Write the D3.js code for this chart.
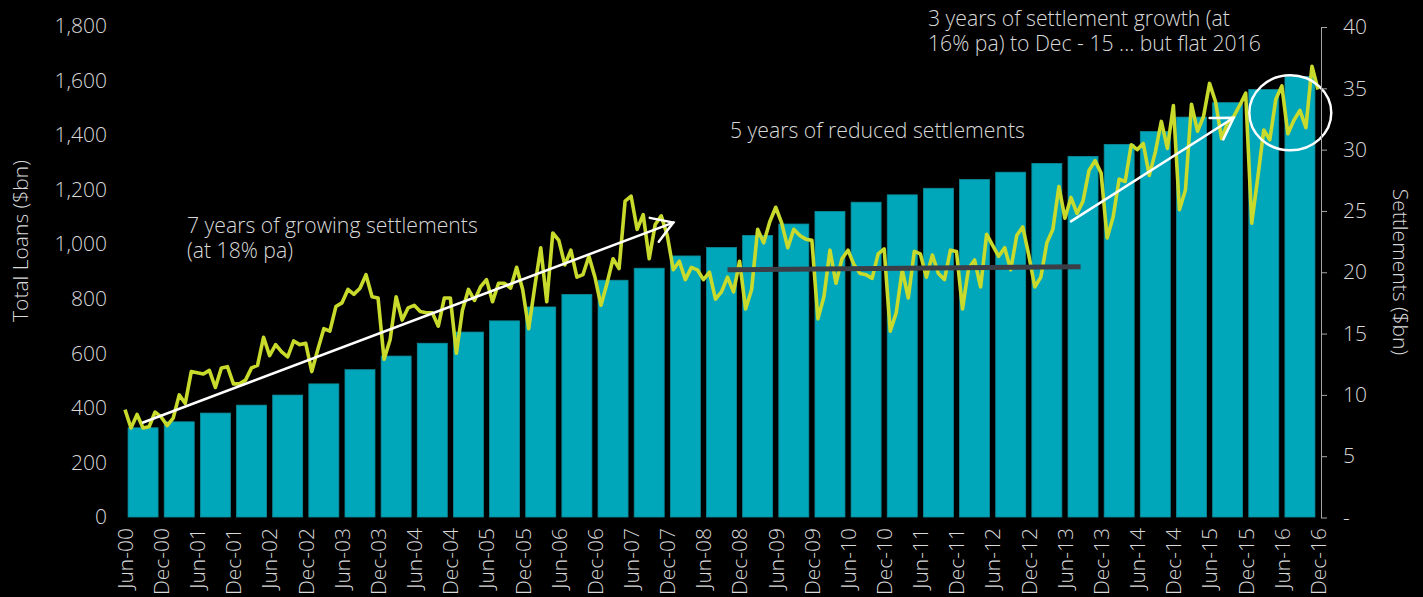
<!DOCTYPE html>
<html>
<head>
<meta charset="utf-8">
<script src="https://cdn.jsdelivr.net/npm/d3@7"></script>
<style>
  body { margin: 0; background: #000; }
  svg { display: block; background: #000; }
  text { font-family: "Open Sans", sans-serif; font-weight: 300; fill: #d9d9d9; }
</style>
</head>
<body>
<div id="chart"></div>
<script>
// half-year labels on the category axis
const periodLabels = [
  "Jun-00", "Dec-00", "Jun-01", "Dec-01", "Jun-02", "Dec-02", "Jun-03", "Dec-03",
  "Jun-04", "Dec-04", "Jun-05", "Dec-05", "Jun-06", "Dec-06", "Jun-07", "Dec-07",
  "Jun-08", "Dec-08", "Jun-09", "Dec-09", "Jun-10", "Dec-10", "Jun-11", "Dec-11",
  "Jun-12", "Dec-12", "Jun-13", "Dec-13", "Jun-14", "Dec-14", "Jun-15", "Dec-15",
  "Jun-16", "Dec-16"
];

// total loans ($bn), one bar per half year
const totalLoans = [
  327, 349, 381, 410, 447, 488, 540, 590, 637, 678, 719, 770, 816, 868, 912, 957,
  988, 1032, 1074, 1120, 1154, 1181, 1205, 1237, 1264, 1296, 1322, 1366, 1413, 1466,
  1519, 1567, 1615
];

// monthly settlements ($bn), Jun-00 .. Dec-16
const settlements = [
  8.8, 7.3, 8.4, 7.3, 7.4, 8.6, 8.2, 7.5, 8.1, 10.0, 9.3, 11.9, 11.8, 11.7, 12.0, 10.6,
  12.2, 12.3, 10.9, 10.9, 11.2, 12.2, 12.4, 14.7, 13.2, 14.1, 13.5, 13.1, 14.4, 14.1,
  14.2, 11.9, 13.7, 15.4, 15.2, 17.2, 17.5, 18.6, 18.2, 18.7, 19.8, 18.0, 17.9, 12.9,
  14.5, 18.0, 16.1, 17.1, 17.3, 16.8, 16.7, 16.7, 15.6, 17.9, 17.9, 13.4, 16.9, 18.6,
  17.7, 18.8, 19.4, 17.6, 19.1, 19.1, 18.7, 20.4, 18.6, 15.4, 18.8, 22.0, 17.6, 23.2,
  22.6, 20.6, 21.8, 19.6, 19.8, 21.3, 19.6, 17.3, 19.1, 21.1, 20.3, 25.8, 26.2, 23.5,
  24.7, 21.1, 23.9, 24.6, 23.0, 20.2, 20.9, 19.4, 20.4, 20.2, 19.4, 20.0, 17.8, 18.4,
  19.6, 18.4, 20.9, 17.0, 18.6, 23.5, 22.4, 24.1, 25.3, 24.0, 22.0, 23.5, 23.0, 22.7,
  22.6, 16.2, 18.0, 21.8, 19.1, 21.1, 21.8, 20.6, 19.9, 19.8, 19.5, 21.5, 21.9, 15.2,
  16.7, 20.2, 17.9, 21.7, 21.5, 19.6, 21.4, 19.9, 19.4, 21.8, 21.7, 17.0, 20.3, 21.0,
  18.8, 23.1, 22.2, 21.3, 22.0, 20.2, 23.0, 23.7, 21.4, 18.8, 19.6, 22.4, 23.5, 27.0,
  24.4, 26.1, 24.8, 25.8, 28.3, 29.1, 28.1, 22.8, 24.5, 27.6, 27.4, 30.4, 30.0, 30.5,
  27.9, 29.8, 32.3, 30.1, 33.6, 25.1, 26.7, 33.7, 31.5, 32.7, 35.4, 33.9, 30.9, 32.2,
  32.7, 33.6, 34.6, 24.0, 27.7, 31.6, 30.8, 34.1, 35.2, 31.3, 32.4, 33.2, 31.8, 36.8,
  34.9
];

const loanTicks = [0, 200, 400, 600, 800, 1000, 1200, 1400, 1600, 1800];
const settlementTicks = [0, 5, 10, 15, 20, 25, 30, 35, 40];

document.addEventListener("DOMContentLoaded", () => {
  const width = 1423;
  const height = 597;

  const svg = d3.select("#chart")
    .append("svg")
    .attr("width", width)
    .attr("height", height);

  // scales
  const xLabel = d3.scalePoint().domain(periodLabels).range([125, 1318]);
  const xMonth = d3.scaleLinear().domain([0, settlements.length - 1]).range([125, 1318]);
  const xBar = d3.scaleBand()
    .domain(d3.range(totalLoans.length))
    .range([125, 1318])
    .paddingInner(0.17)
    .paddingOuter(0.085);

  const yLeft = d3.scaleLinear().domain([0, 1800]).range([517, 26]);
  const yRight = d3.scaleLinear().domain([0, 40]).range([517.5, 27]);

  // bars
  svg.append("g")
    .selectAll("rect")
    .data(totalLoans)
    .enter()
    .append("rect")
    .attr("x", (d, i) => xBar(i))
    .attr("y", d => yLeft(d))
    .attr("width", xBar.bandwidth())
    .attr("height", d => yLeft(0) - yLeft(d))
    .style("fill", "#00a6b9")
    .style("stroke", "#0e8b9a")
    .style("stroke-width", 0.8);

  // settlements line
  const line = d3.line()
    .x((d, i) => xMonth(i))
    .y(d => yRight(d));

  svg.append("path")
    .datum(settlements)
    .attr("d", line)
    .style("fill", "none")
    .style("stroke", "#c8da2b")
    .style("stroke-width", 3.6)
    .style("stroke-linejoin", "round");

  // grey flat line for the 5 reduced years
  svg.append("line")
    .attr("x1", xMonth(100)).attr("y1", yRight(20.2))
    .attr("x2", xMonth(158.6)).attr("y2", yRight(20.45))
    .style("stroke", "#3b3e47")
    .style("stroke-width", 5);

  // arrows
  const drawArrow = (m1, v1, m2, v2) => {
    const x1 = xMonth(m1), y1 = yRight(v1), x2 = xMonth(m2), y2 = yRight(v2);
    const a = Math.atan2(y2 - y1, x2 - x1);
    const len = 24, spread = 32 * Math.PI / 180;
    const g = svg.append("g")
      .style("stroke", "#fff")
      .style("stroke-width", 2.5)
      .style("fill", "none")
      .style("stroke-linecap", "round");
    g.append("line").attr("x1", x1).attr("y1", y1).attr("x2", x2).attr("y2", y2);
    g.append("path")
      .attr("d", `M${x2 + len * Math.cos(a + Math.PI - spread)},${y2 + len * Math.sin(a + Math.PI - spread)}` +
        `L${x2},${y2}` +
        `L${x2 + len * Math.cos(a + Math.PI + spread)},${y2 + len * Math.sin(a + Math.PI + spread)}`);
  };
  drawArrow(3, 7.75, 91, 24.05);
  drawArrow(157, 24.15, 184, 32.6);

  // circle around 2016
  svg.append("ellipse")
    .attr("cx", xMonth(193.4))
    .attr("cy", yRight(33.0))
    .attr("rx", 41)
    .attr("ry", 37.5)
    .style("fill", "none")
    .style("stroke", "#fff")
    .style("stroke-width", 2.5);

  // left axis
  const leftAxis = svg.append("g")
    .attr("transform", "translate(112,0)")
    .call(d3.axisLeft(yLeft).tickValues(loanTicks).tickFormat(d3.format(",")).tickSize(0).tickPadding(5));
  leftAxis.select(".domain").remove();
  leftAxis.selectAll("text").style("font-size", "21px").attr("fill", null);

  // right axis
  const rightAxis = svg.append("g")
    .attr("transform", "translate(1321,0)")
    .call(d3.axisRight(yRight).tickValues(settlementTicks)
      .tickFormat(d => d === 0 ? "-" : d).tickSize(6).tickSizeOuter(0).tickPadding(16));
  rightAxis.select(".domain").style("stroke", "#a6a6a6");
  rightAxis.selectAll(".tick line").style("stroke", "#a6a6a6");
  rightAxis.selectAll("text").style("font-size", "21px").attr("fill", null);

  // bottom axis
  const bottomAxis = svg.append("g")
    .attr("transform", "translate(0,517)")
    .call(d3.axisBottom(xLabel).tickSize(0));
  bottomAxis.select(".domain").remove();
  bottomAxis.selectAll("text")
    .attr("transform", "rotate(-90)")
    .attr("x", -11)
    .attr("y", 0)
    .attr("dy", "0.35em")
    .attr("fill", null)
    .style("text-anchor", "end")
    .style("font-size", "21px");

  // axis titles
  svg.append("text")
    .attr("transform", "translate(21,241) rotate(-90)")
    .attr("dy", "0.35em")
    .attr("text-anchor", "middle")
    .style("font-size", "21px")
    .text("Total Loans ($bn)");

  svg.append("text")
    .attr("transform", "translate(1400,272) rotate(90)")
    .attr("dy", "0.35em")
    .attr("text-anchor", "middle")
    .style("font-size", "21px")
    .text("Settlements ($bn)");

  // annotations
  const addNote = (x, y, lines) => {
    const t = svg.append("text")
      .attr("x", x)
      .attr("y", y)
      .style("font-size", "21.2px");
    lines.forEach((s, i) => {
      t.append("tspan").attr("x", x).attr("dy", i === 0 ? 0 : 25).text(s);
    });
  };
  addNote(187, 233, ["7 years of growing settlements", "(at 18% pa)"]);
  addNote(730, 138, ["5 years of reduced settlements"]);
  addNote(928, 26, ["3 years of settlement growth (at", "16% pa) to Dec - 15 ... but flat 2016"]);
});
</script>
</body>
</html>
